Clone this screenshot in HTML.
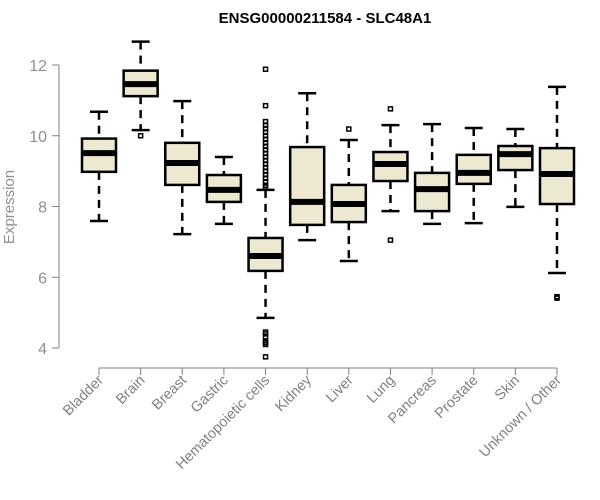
<!DOCTYPE html>
<html><head><meta charset="utf-8"><style>
body{margin:0;background:#fff}
svg{display:block;font-family:"Liberation Sans",Arial,sans-serif}
</style></head><body>
<svg id="c" width="600" height="500">
<text x="325" y="23" text-anchor="middle" font-weight="bold" font-size="15">ENSG00000211584 - SLC48A1</text>
<text transform="translate(14,207) rotate(-90)" text-anchor="middle" font-size="15" fill="#909090">Expression</text>
</svg>
<script>
const categories=["Bladder","Brain","Breast","Gastric","Hematopoietic cells","Kidney","Liver","Lung","Pancreas","Prostate","Skin","Unknown / Other"];
const whiskLow=[7.59,10.16,7.22,7.51,4.85,7.05,6.46,7.87,7.51,7.53,7.99,6.12];
const q1=[8.98,11.12,8.61,8.13,6.18,7.48,7.56,8.72,7.87,8.64,9.03,8.07];
const med=[9.51,11.46,9.23,8.47,6.60,8.13,8.07,9.2,8.49,8.95,9.48,8.92];
const q3=[9.92,11.84,9.80,8.89,7.11,9.68,8.61,9.54,8.95,9.46,9.71,9.65];
const whiskHigh=[10.68,12.66,10.98,9.40,8.47,11.2,9.88,10.30,10.33,10.22,10.19,11.38];
const outlierCat=[1,4,4,4,4,4,4,4,4,4,4,4,4,4,4,4,4,4,4,4,4,4,4,4,4,4,4,4,4,4,6,7,7,11,11];
const outlierVal=[10.0,11.88,10.85,10.4,10.3,10.2,10.1,10.0,9.9,9.8,9.7,9.6,9.5,9.4,9.3,9.2,9.1,9.0,8.9,8.8,8.7,8.6,8.55,4.45,4.4,4.3,4.2,4.15,4.1,3.75,10.19,10.76,7.05,5.41,5.45];
const yTicks=[4,6,8,10,12];
const svg=document.getElementById('c');
const NS='http://www.w3.org/2000/svg';
const y=v=>348-(v-4)*35.375;
const x=i=>99+i*41.636;
function mk(t,a,p){const e=document.createElementNS(NS,t);for(const k in a)e.setAttribute(k,a[k]);(p||svg).appendChild(e);return e;}
const ya=mk('g',{});


mk('line',{x1:59,x2:59,y1:y(12),y2:y(4),stroke:'#808080'},ya);
yTicks.forEach(t=>{mk('line',{x1:52,x2:59,y1:y(t),y2:y(t),stroke:'#808080'},ya);
const tx=mk('text',{x:47,y:y(t)+6,'text-anchor':'end','font-size':16,fill:'#909090'},ya);tx.textContent=t;

});
const xa=mk('g',{});


mk('line',{x1:x(0),x2:x(11),y1:368,y2:368,stroke:'#808080'},xa);
categories.forEach((c,i)=>{mk('line',{x1:x(i),x2:x(i),y1:368,y2:375,stroke:'#808080'},xa);
const tx=mk('text',{transform:`translate(${x(i)+5},${381}) rotate(-45)`,'text-anchor':'end','font-size':14.5,fill:'#808080'},xa);tx.textContent=c;

});
categories.forEach((c,i)=>{const g=mk('g',{});


const cx=x(i),w=17;
mk('line',{x1:cx,x2:cx,y1:y(whiskHigh[i]),y2:y(q3[i]),stroke:'#000','stroke-width':2.5,'stroke-dasharray':'8,6'},g);
mk('line',{x1:cx,x2:cx,y1:y(q1[i]),y2:y(whiskLow[i]),stroke:'#000','stroke-width':2.5,'stroke-dasharray':'8,6'},g);
mk('line',{x1:cx-9,x2:cx+9,y1:y(whiskHigh[i]),y2:y(whiskHigh[i]),stroke:'#000','stroke-width':2.5},g);
mk('line',{x1:cx-9,x2:cx+9,y1:y(whiskLow[i]),y2:y(whiskLow[i]),stroke:'#000','stroke-width':2.5},g);
mk('rect',{x:cx-w,y:y(q3[i]),width:2*w,height:y(q1[i])-y(q3[i]),fill:'#ede8d0',stroke:'#000','stroke-width':2.5},g);
mk('line',{x1:cx-w,x2:cx+w,y1:y(med[i]),y2:y(med[i]),stroke:'#000','stroke-width':6},g);});
outlierVal.forEach((v,k)=>{const r=mk('rect',{x:x(outlierCat[k])-2,y:y(v)-2,width:4,height:4,fill:'none',stroke:'#000','stroke-width':1.5});

});
</script>
</body></html>
